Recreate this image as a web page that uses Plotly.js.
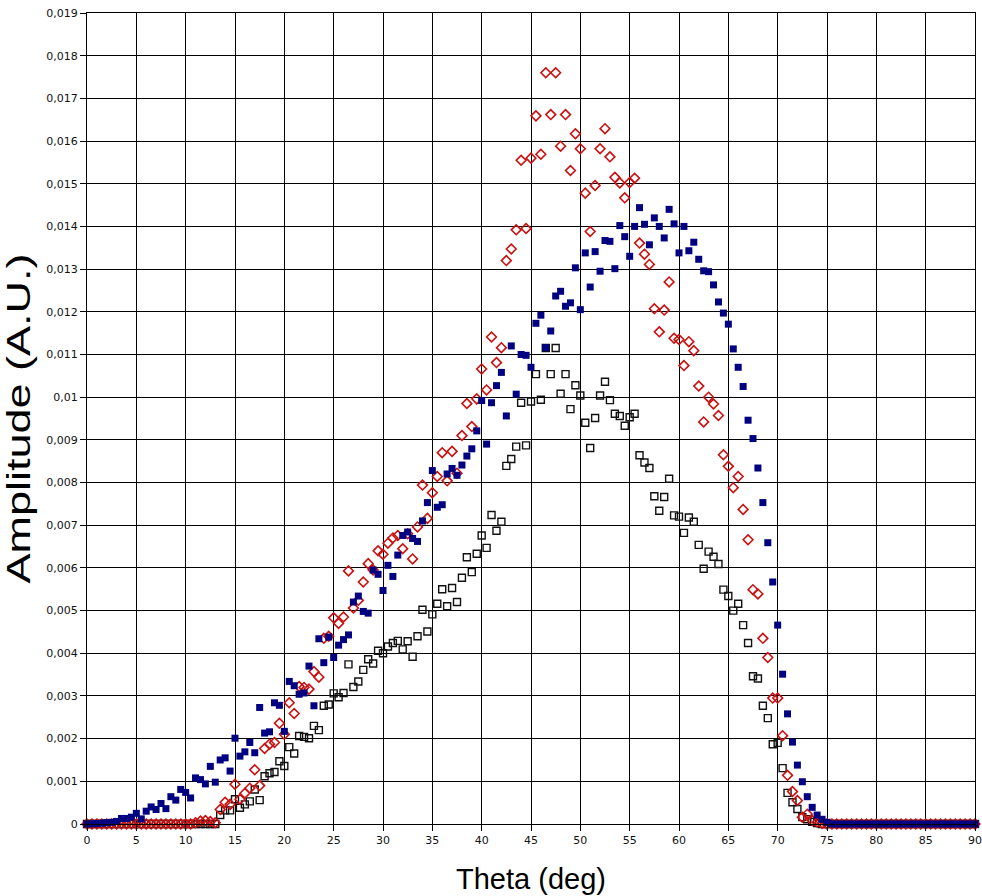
<!DOCTYPE html>
<html>
<head>
<meta charset="utf-8">
<script src="https://cdn.plot.ly/plotly-3.0.1.min.js"></script>
<style>
  html, body { margin: 0; padding: 0; background: #ffffff; }
  #chart { width: 982px; height: 896px; }
</style>
</head>
<body>
<div id="chart"></div>
<script>
// Incidence angle grid (deg)
const theta = [
  0,0.5,1,1.5,2,2.5,3,3.5,4,4.5,5,5.5,6,6.5,7,7.5,8,8.5,9,9.5,
  10,10.5,11,11.5,12,12.5,13,13.5,14,14.5,15,15.5,16,16.5,17,17.5,18,18.5,19,19.5,
  20,20.5,21,21.5,22,22.5,23,23.5,24,24.5,25,25.5,26,26.5,27,27.5,28,28.5,29,29.5,
  30,30.5,31,31.5,32,32.5,33,33.5,34,34.5,35,35.5,36,36.5,37,37.5,38,38.5,39,39.5,
  40,40.5,41,41.5,42,42.5,43,43.5,44,44.5,45,45.5,46,46.5,47,47.5,48,48.5,49,49.5,
  50,50.5,51,51.5,52,52.5,53,53.5,54,54.5,55,55.5,56,56.5,57,57.5,58,58.5,59,59.5,
  60,60.5,61,61.5,62,62.5,63,63.5,64,64.5,65,65.5,66,66.5,67,67.5,68,68.5,69,69.5,
  70,70.5,71,71.5,72,72.5,73,73.5,74,74.5,75,75.5,76,76.5,77,77.5,78,78.5,79,79.5,
  80,80.5,81,81.5,82,82.5,83,83.5,84,84.5,85,85.5,86,86.5,87,87.5,88,88.5,89,89.5,
  90
];

// Amplitude, filled navy squares
const ampBlue = [
  0,0.000005,0.00001,0.00002,0.00003,0.00004,0.00006,0.00013,0.00013,0.00016,
  0.00025,0.00012,0.0003,0.0004,0.00034,0.00048,0.00036,0.00064,0.00056,0.00081,
  0.00074,0.00061,0.00108,0.00104,0.00094,0.00135,0.00098,0.0015,0.00155,0.00124,
  0.00201,0.00159,0.00169,0.00191,0.00167,0.00273,0.00213,0.00216,0.00284,0.00278,
  0.00217,0.00334,0.00324,0.00304,0.00307,0.0037,0.00277,0.00434,0.00378,0.00438,
  0.0039,0.00419,0.00432,0.00443,0.0052,0.00534,0.00498,0.00494,0.00595,0.00585,
  0.00547,0.00606,0.0058,0.0063,0.00676,0.00684,0.00669,0.00662,0.0071,0.00753,
  0.00828,0.00742,0.00748,0.0082,0.00833,0.00817,0.00841,0.00862,0.00879,0.00921,
  0.00992,0.0089,0.00987,0.01027,0.01058,0.00956,0.0112,0.01007,0.011,0.01098,
  0.0107,0.01173,0.01192,0.01116,0.01155,0.01237,0.01248,0.01213,0.01221,0.01303,
  0.01205,0.01338,0.01258,0.01341,0.01295,0.01367,0.01365,0.01301,0.01402,0.01376,
  0.0133,0.014,0.01444,0.01405,0.01357,0.0142,0.014,0.01373,0.0144,0.01406,
  0.01338,0.014,0.01343,0.01363,0.01323,0.01296,0.01294,0.01263,0.01223,0.01197,
  0.01171,0.01113,0.0107,0.01025,0.00946,0.00903,0.00834,0.00753,0.00659,0.00567,
  0.00466,0.00351,0.00258,0.00192,0.00138,0.00099,0.00064,0.00039,0.00021,0.00011,
  0.00004,0,0,0,0,0,0,0,0,0,
  0,0,0,0,0,0,0,0,0,0,
  0,0,0,0,0,0,0,0,0,0,
  0
];

// Amplitude, open red diamonds
const ampRed = [
  0,0,0,0,0,0,0,0,0,0,
  0,0,0,0,0,0,0,0,0,0,
  0,0,0.00003,0.00007,0.00008,0.00006,0.00003,0.00034,0.00051,0.00046,
  0.00093,0.00058,0.00072,0.00084,0.00127,0.0009,0.00177,0.00187,0.00191,0.00236,
  0.0021,0.00284,0.00259,0.00322,0.0032,0.00316,0.00357,0.00344,0.00435,0.0044,
  0.00483,0.0047,0.00485,0.00593,0.00506,0.00524,0.00567,0.0061,0.00595,0.0064,
  0.00632,0.00658,0.0067,0.00676,0.00645,0.0068,0.00621,0.00696,0.00794,0.00716,
  0.00776,0.00814,0.0087,0.00804,0.00873,0.00822,0.0091,0.00985,0.00931,0.00996,
  0.01066,0.01017,0.01141,0.01081,0.01116,0.0132,0.01347,0.01392,0.01555,0.01395,
  0.0156,0.01659,0.01569,0.0176,0.01662,0.0176,0.01588,0.01662,0.01531,0.01617,
  0.01582,0.01478,0.01388,0.01496,0.01582,0.01629,0.01563,0.01515,0.01502,0.01467,
  0.01503,0.01513,0.01361,0.01335,0.01311,0.01207,0.01153,0.01204,0.0127,0.01138,
  0.01135,0.01074,0.0113,0.01109,0.01026,0.00942,0.01,0.00984,0.00957,0.00865,
  0.00838,0.00788,0.00814,0.00737,0.00666,0.00549,0.00539,0.00435,0.0039,0.00295,
  0.00295,0.00207,0.00114,0.00076,0.00055,0.00016,0.00023,0.00008,0.00004,0.00001,
  0,0,0,0,0,0,0,0,0,0,
  0,0,0,0,0,0,0,0,0,0,
  0,0,0,0,0,0,0,0,0,0,
  0
];

// Amplitude, open black squares
const ampBlack = [
  0,0,0,0,0,0,0,0,0,0,
  0,0,0,0,0,0,0,0,0,0,
  0,0,0,0,0,0,0,0.00021,0.00032,0.00032,
  0.00058,0.00038,0.00046,0.00053,0.00081,0.00056,0.00112,0.00119,0.00122,0.00147,
  0.00136,0.0018,0.00165,0.00206,0.00204,0.00201,0.0023,0.0022,0.00277,0.0028,
  0.00306,0.00297,0.00307,0.00374,0.00321,0.00334,0.00361,0.00386,0.00376,0.00406,
  0.004,0.00416,0.00424,0.00429,0.00409,0.00428,0.00392,0.0044,0.00502,0.00451,
  0.00491,0.00516,0.0055,0.0051,0.00553,0.0052,0.00577,0.00625,0.0059,0.00633,
  0.00676,0.00647,0.00724,0.00687,0.00708,0.00839,0.00855,0.00884,0.00987,0.00887,
  0.0099,0.01054,0.00994,0.01115,0.01054,0.01115,0.01008,0.01054,0.00972,0.01028,
  0.01004,0.0094,0.00881,0.00951,0.01004,0.01036,0.00993,0.00961,0.00956,0.00933,
  0.00953,0.00961,0.00864,0.00847,0.00834,0.00768,0.00734,0.00766,0.00809,0.00723,
  0.0072,0.00682,0.00718,0.00708,0.00654,0.00598,0.00638,0.00626,0.00609,0.00549,
  0.00534,0.005,0.00516,0.00466,0.00424,0.00346,0.00341,0.00277,0.00248,0.00187,
  0.0019,0.00131,0.00073,0.00051,0.00035,0.00016,0.00011,0.00005,0.00002,0,
  0,0,0,0,0,0,0,0,0,0,
  0,0,0,0,0,0,0,0,0,0,
  0,0,0,0,0,0,0,0,0,0,
  0
];

// Axis ticks
const xTickVals = [0,5,10,15,20,25,30,35,40,45,50,55,60,65,70,75,80,85,90];
const yTickVals = [0,0.001,0.002,0.003,0.004,0.005,0.006,0.007,0.008,0.009,0.01,
                   0.011,0.012,0.013,0.014,0.015,0.016,0.017,0.018,0.019];
const yTickLabels = ['0','0,001','0,002','0,003','0,004','0,005','0,006','0,007','0,008','0,009','0,01',
                     '0,011','0,012','0,013','0,014','0,015','0,016','0,017','0,018','0,019'];

const traces = [
  {
    x: theta, y: ampBlack, type: 'scatter', mode: 'markers', cliponaxis: false,
    marker: { symbol: 'square-open', size: 7, color: '#111111', line: { width: 1.4, color: '#111111' } }
  },
  {
    x: theta, y: ampRed, type: 'scatter', mode: 'markers', cliponaxis: false,
    marker: { symbol: 'diamond-open', size: 7.5, color: '#cc1010', line: { width: 1.6, color: '#cc1010' } }
  },
  {
    x: theta, y: ampBlue, type: 'scatter', mode: 'markers', cliponaxis: false,
    marker: { symbol: 'square', size: 7, color: '#000080', line: { width: 0 } }
  }
];

const tickFont = { family: 'DejaVu Sans, Verdana, sans-serif', size: 11, color: '#111111' };

const layout = {
  width: 982, height: 896,
  margin: { l: 87, r: 7, t: 13, b: 72 },
  paper_bgcolor: '#ffffff', plot_bgcolor: '#ffffff',
  showlegend: false,
  xaxis: {
    range: [0, 90], tickmode: 'array', tickvals: xTickVals,
    showgrid: true, gridcolor: '#000000', gridwidth: 1,
    showline: true, linecolor: '#000000', linewidth: 1, mirror: true,
    ticks: 'outside', ticklen: 6, tickwidth: 1, tickcolor: '#000000',
    zeroline: false, tickfont: tickFont, ticklabeloverflow: 'allow',
    title: { text: 'Theta (deg)', font: { family: 'Liberation Sans, Arial, sans-serif', size: 29, color: '#000000' }, standoff: 22 }
  },
  yaxis: {
    range: [0, 0.019], tickmode: 'array', tickvals: yTickVals, ticktext: yTickLabels,
    showgrid: true, gridcolor: '#000000', gridwidth: 1,
    showline: true, linecolor: '#000000', linewidth: 1, mirror: true,
    ticks: 'outside', ticklen: 6, tickwidth: 1, tickcolor: '#000000',
    zeroline: false, tickfont: tickFont,
    title: { text: 'Amplitude (A.U.)', font: { family: 'Liberation Sans, Arial, sans-serif', size: 33, color: '#000000' }, standoff: 8 }
  }
};

Plotly.newPlot('chart', traces, layout, { staticPlot: true, displayModeBar: false }).then(function () {
  // The vertical axis title is set in a wide, stretched face
  const yt = document.querySelector('#chart .ytitle');
  if (yt) {
    yt.setAttribute('textLength', '330');
    yt.setAttribute('lengthAdjust', 'spacingAndGlyphs');
  }
});
</script>
</body>
</html>
